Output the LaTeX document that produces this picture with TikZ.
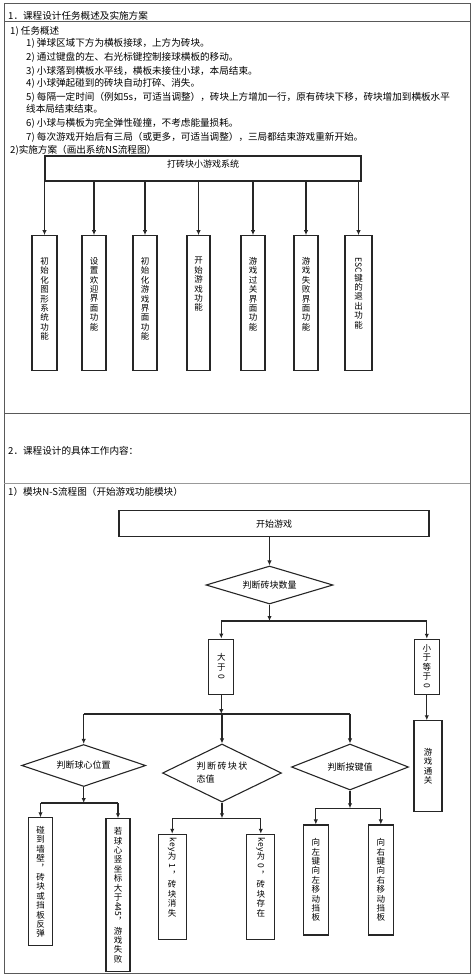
\documentclass[tikz,border=0pt]{standalone}
\usepackage{fontspec}
\usepackage{graphicx}
\newfontfamily\cjk{Noto Sans CJK SC}
\usetikzlibrary{arrows.meta,shapes.geometric,positioning}

\newcommand{\turnlat}[1]{\rotatebox[origin=c]{-90}{#1}}

\tikzset{
	frameline/.style={draw=black!65,line width=1pt},
	fbox/.style={draw=black!85,line width=1.1pt,inner sep=0pt},
	dbox/.style={diamond,draw=black!85,line width=1.1pt,inner sep=0pt,aspect=3,font=\cjk\fontsize{9}{13}\selectfont},
	vtxt/.style={inner sep=0pt,align=center,font=\cjk\fontsize{8.5}{9.4}\selectfont},
	btxt/.style={anchor=west,inner sep=0pt,font=\cjk\fontsize{9.6}{12}\selectfont},
	ctxt/.style={inner sep=0pt,font=\cjk\fontsize{9}{12}\selectfont},
	flow/.style={draw=black!85,line width=1.1pt,-{Latex[length=5pt,width=4.4pt]}},
	link/.style={draw=black!85,line width=1.1pt},
}

\begin{document}
\begin{tikzpicture}[x=1pt,y=-1pt]
	\useasboundingbox (0,0) rectangle (474,977);
	% table frame
	\draw[frameline] (4,3) rectangle (470,973);
	\draw[frameline] (4,21) -- (470,21);
	\draw[frameline] (4,413) -- (470,413);
	\draw[frameline,draw=black!40] (4,483) -- (470,483);

	% section 1 text
	\node[btxt] (t1) at (8,16) {1．课程设计任务概述及实施方案};
	\node[btxt] (t11) at (10,31) {1) 任务概述};
	\node[btxt] (i1) at (26,43) {1) 弹球区域下方为横板接球，上方为砖块。};
	\node[btxt] (i2) at (26,57) {2) 通过键盘的左、右光标键控制接球横板的移动。};
	\node[btxt] (i3) at (26,71) {3) 小球落到横板水平线，横板未接住小球，本局结束。};
	\node[btxt] (i4) at (26,83) {4) 小球弹起碰到的砖块自动打碎、消失。};
	\node[btxt] (i5) at (26,97) {5) 每隔一定时间（例如5s，可适当调整），砖块上方增加一行，原有砖块下移，砖块增加到横板水平};
	\node[btxt] (i5b) at (26,109) {线本局结束结束。};
	\node[btxt] (i6) at (26,123) {6) 小球与横板为完全弹性碰撞，不考虑能量损耗。};
	\node[btxt] (i7) at (26,137) {7) 每次游戏开始后有三局（或更多，可适当调整），三局都结束游戏重新开始。};
	\node[btxt] (t12) at (10,150) {2)实施方案（画出系统NS流程图）};

	% system diagram
	\node[fbox,minimum width=316,minimum height=25] (sys) at (203,168.5) {};
	\node[ctxt,anchor=north] (systxt) at ([yshift=-4pt]sys.north) {打砖块小游戏系统};
	\node[fbox,minimum width=25,minimum height=135] (f1) at (44.5,303.2) {};
	\node[fbox,minimum width=24,minimum height=135] (f2) at (94,303.2) {};
	\node[fbox,minimum width=24,minimum height=135] (f3) at (145,303.2) {};
	\node[fbox,minimum width=23,minimum height=135] (f4) at (198.5,303.2) {};
	\node[fbox,minimum width=24,minimum height=135] (f5) at (253,303.2) {};
	\node[fbox,minimum width=24,minimum height=135] (f6) at (306,303.2) {};
	\node[fbox,minimum width=27,minimum height=135] (f7) at (358.5,303.2) {};
	\node[vtxt,anchor=north] at ([yshift=-22pt]f1.north) {初\\始\\化\\图\\形\\系\\统\\功\\能};
	\node[vtxt,anchor=north] at ([yshift=-22pt]f2.north) {设\\置\\欢\\迎\\界\\面\\功\\能};
	\node[vtxt,anchor=north] at ([yshift=-22pt]f3.north) {初\\始\\化\\游\\戏\\界\\面\\功\\能};
	\node[vtxt,anchor=north] at ([yshift=-22pt]f4.north) {开\\始\\游\\戏\\功\\能};
	\node[vtxt,anchor=north] at ([yshift=-22pt]f5.north) {游\\戏\\过\\关\\界\\面\\功\\能};
	\node[vtxt,anchor=north] at ([yshift=-22pt]f6.north) {游\\戏\\失\\败\\界\\面\\功\\能};
	\node[vtxt,anchor=north] at ([yshift=-22pt]f7.north) {\turnlat{ESC}\\键\\的\\退\\出\\功\\能};
	\draw[flow] (f1.north |- sys.south) -- (f1.north);
	\draw[flow] (f2.north |- sys.south) -- (f2.north);
	\draw[flow] (f3.north |- sys.south) -- (f3.north);
	\draw[flow] (f4.north |- sys.south) -- (f4.north);
	\draw[flow] (f5.north |- sys.south) -- (f5.north);
	\draw[flow] (f6.north |- sys.south) -- (f6.north);
	\draw[flow] (f7.north |- sys.south) -- (f7.north);

	% section 2 text
	\node[btxt] (t2) at (8,451) {2．课程设计的具体工作内容：};
	\node[btxt] (t21) at (8,492) {1）模块N-S流程图（开始游戏功能模块）};

	% N-S flow chart
	\node[fbox,ctxt,minimum width=310,minimum height=26] (start) at (274,523.7) {开始游戏};
	\node[dbox,minimum width=127,minimum height=38] (cnt) at (269.5,585) {判断砖块数量};
	\draw[flow] (start.south -| cnt.north) -- (cnt.north);
	\coordinate (bus1) at (269.5,621);
	\draw[flow] (cnt.south) -- (bus1);
	\node[fbox,vtxt,minimum width=25,minimum height=55] (gt) at (221.3,666.6) {大\\于\\\turnlat{0}};
	\node[fbox,vtxt,minimum width=25,minimum height=55] (le) at (426.8,666.8) {小\\于\\等\\于\\\turnlat{0}};
	\draw[link] (gt.north |- bus1) -- (le.north |- bus1);
	\draw[flow] (gt.north |- bus1) -- (gt.north);
	\draw[flow] (le.north |- bus1) -- (le.north);
	\node[fbox,vtxt,minimum width=28,minimum height=91] (pass) at (428,766.3) {游\\戏\\通\\关};
	\draw[flow] (le.south) -- (le.south |- pass.north);

	\coordinate (bus2) at (221.3,714);
	\draw[flow] (gt.south) -- (bus2);
	\node[dbox,minimum width=124,minimum height=42] (d1) at (83.7,765.5) {判断球心位置};
	\node[dbox,minimum width=119,minimum height=58,align=left] (d2) at (222,773) {判\hspace{1.4pt}断\hspace{1.4pt}砖\hspace{1.4pt}块\hspace{1.4pt}状\\态值\hspace{33pt}};
	\node[dbox,minimum width=117,minimum height=46] (d3) at (350,767) {判断按键值};
	\draw[link] (d1.north |- bus2) -- (d3.north |- bus2);
	\draw[flow] (d1.north |- bus2) -- (d1.north);
	\draw[flow] (d2.north |- bus2) -- (d2.north);
	\draw[flow] (d3.north |- bus2) -- (d3.north);

	% ball position branch
	\coordinate (bus3) at (83.7,803);
	\draw[flow] (d1.south) -- (bus3);
	\node[fbox,vtxt,minimum width=24,minimum height=128] (b1) at (40.5,881.9) {碰\\到\\墙\\壁\\︐\\砖\\块\\或\\挡\\板\\反\\弹};
	\node[fbox,vtxt,minimum width=24,minimum height=153] (b2) at (118,895.3) {若\\球\\心\\竖\\坐\\标\\大\\于\\\turnlat{445}\\︐\\游\\戏\\失\\败};
	\draw[link] (b1.north |- bus3) -- (b2.north |- bus3);
	\draw[flow] (b1.north |- bus3) -- (b1.north);
	\draw[flow] (b2.north |- bus3) -- (b2.north);

	% brick state branch
	\coordinate (bus4) at (222,818.3);
	\draw[flow] (d2.south) -- (bus4);
	\node[fbox,minimum width=28,minimum height=105] (k1) at (172.2,886.8) {};
	\node[fbox,minimum width=28,minimum height=105] (k2) at (260.8,886.8) {};
	\node[vtxt,anchor=north] at ([yshift=-4pt]k1.north) {\turnlat{key}\\为\\\turnlat{1}\\︐\\砖\\块\\消\\失};
	\node[vtxt,anchor=north] at ([yshift=-4pt]k2.north) {\turnlat{key}\\为\\\turnlat{0}\\︐\\砖\\块\\存\\在};
	\draw[link] (k1.north |- bus4) -- (k2.north |- bus4);
	\draw[flow] (k1.north |- bus4) -- (k1.north);
	\draw[flow] (k2.north |- bus4) -- (k2.north);

	% key branch
	\coordinate (bus5) at (350,808.3);
	\draw[flow] (d3.south) -- (bus5);
	\node[fbox,vtxt,minimum width=25,minimum height=110] (m1) at (315.8,880) {向\\左\\键\\向\\左\\移\\动\\挡\\板};
	\node[fbox,vtxt,minimum width=25,minimum height=110] (m2) at (380.8,880) {向\\右\\键\\向\\右\\移\\动\\挡\\板};
	\draw[link] (m1.north |- bus5) -- (m2.north |- bus5);
	\draw[flow] (m1.north |- bus5) -- (m1.north);
	\draw[flow] (m2.north |- bus5) -- (m2.north);
\end{tikzpicture}
\end{document}
